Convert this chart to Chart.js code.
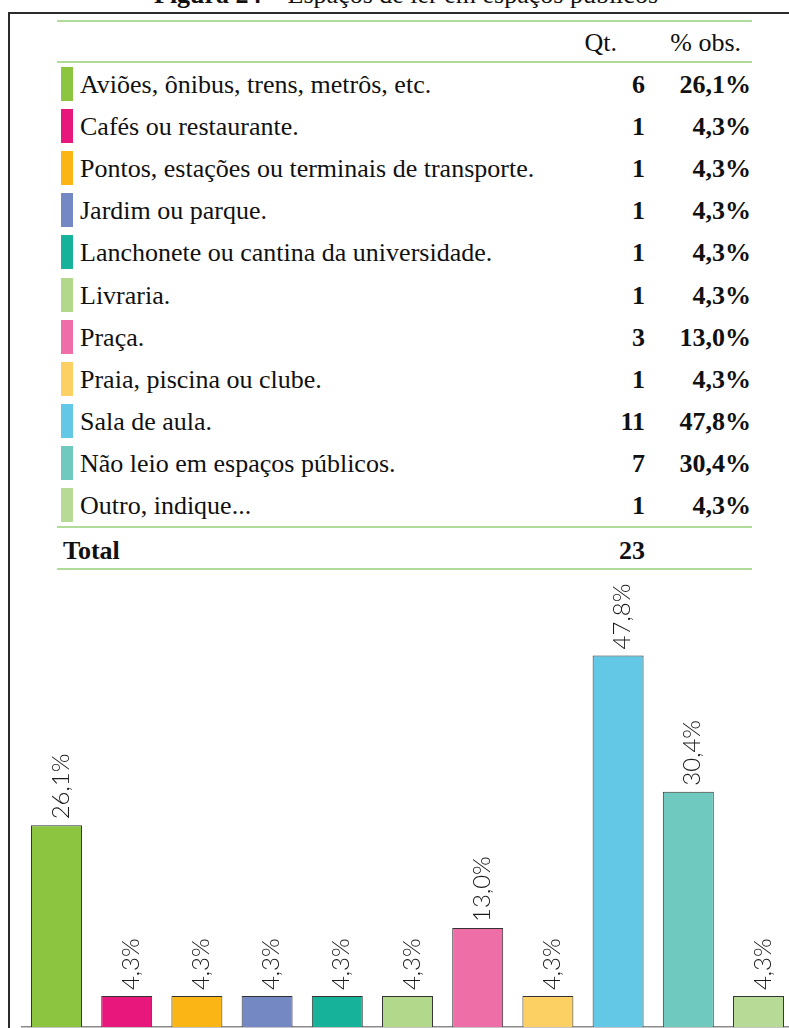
<!DOCTYPE html>
<html>
<head>
<meta charset="utf-8">
<script src="https://cdn.jsdelivr.net/npm/chart.js@4"></script>
<style>
  html, body { margin: 0; padding: 0; background: #fff; }
  body { width: 789px; height: 1028px; overflow: hidden; position: relative; font-family: "Liberation Serif", "Times New Roman", serif; color: #111; }
  .abs { position: absolute; white-space: nowrap; }
  #title { position: absolute; white-space: nowrap; left: 0; width: 812px; text-align: center; top: -24px; font-size: 26px; line-height: 38px; }
  #frame { position: absolute; left: 8px; top: 12px; width: 900px; height: 1100px; border-left: 2.5px solid #2b2b2b; border-top: 2px solid #2b2b2b; }
  .rule { position: absolute; left: 57px; width: 695px; height: 2px; background: #b0db98; }
  .txt { font-size: 26px; line-height: 38px; height: 38px; }
  .sw { position: absolute; left: 61px; width: 12px; height: 34px; }
  .num { text-align: right; font-weight: bold; }
  #chartBox { position: absolute; left: 0; top: 580px; width: 800px; height: 448px; }
</style>
</head>
<body>
<div id="title"><b>Figura 24</b> – Espaços de ler em espaços públicos</div>
<div id="frame"></div>
<div id="table"></div>
<div id="chartBox"><canvas id="barChart"></canvas></div>

<script>
const categories = [
  "Aviões, ônibus, trens, metrôs, etc.",
  "Cafés ou restaurante.",
  "Pontos, estações ou terminais de transporte.",
  "Jardim ou parque.",
  "Lanchonete ou cantina da universidade.",
  "Livraria.",
  "Praça.",
  "Praia, piscina ou clube.",
  "Sala de aula.",
  "Não leio em espaços públicos.",
  "Outro, indique...",
];
const counts = [6, 1, 1, 1, 1, 1, 3, 1, 11, 7, 1];
const percents = [26.1, 4.3, 4.3, 4.3, 4.3, 4.3, 13.0, 4.3, 47.8, 30.4, 4.3];
const total = 23;
const colors = [
  "#8cc540", "#e8177b", "#fbb615", "#7489c4", "#17b29a", "#b1d88b",
  "#ee6ea8", "#fdd064", "#62c8e5", "#70c9bf", "#b7db96",
];

function fmtPct(v) {
  return v.toFixed(1).replace(".", ",") + "%";
}

function buildTable() {
  const box = document.getElementById("table");
  let html = "";
  [20, 61, 526, 568].forEach((y) => {
    html += `<div class="rule" style="top:${y}px"></div>`;
  });
  html += `<div class="abs txt" style="top:24px;left:540px;width:77px;text-align:right">Qt.</div>`;
  html += `<div class="abs txt" style="top:24px;left:640px;width:101px;text-align:right">% obs.</div>`;
  categories.forEach((cat, i) => {
    const top = 67 + 42.1 * i;
    html += `<div class="sw" style="top:${top}px;background:${colors[i]}"></div>`;
    html += `<div class="abs txt" style="top:${top - 1}px;left:80px">${cat}</div>`;
    html += `<div class="abs txt num" style="top:${top - 1}px;left:560px;width:85px">${counts[i]}</div>`;
    html += `<div class="abs txt num" style="top:${top - 1}px;left:640px;width:111px">${fmtPct(percents[i])}</div>`;
  });
  html += `<div class="abs txt" style="top:532px;left:63px;font-weight:bold">Total</div>`;
  html += `<div class="abs txt num" style="top:532px;left:560px;width:85px">${total}</div>`;
  box.innerHTML = html;
}

// rotated value labels above each bar
const barLabels = {
  id: "barLabels",
  afterDatasetsDraw(chart) {
    const ctx = chart.ctx;
    const meta = chart.getDatasetMeta(0);
    ctx.save();
    ctx.font = "300 24px Lato, 'Liberation Sans', sans-serif";
    ctx.fillStyle = "#1a1a1a";
    ctx.textAlign = "left";
    ctx.textBaseline = "alphabetic";
    meta.data.forEach((bar, i) => {
      ctx.save();
      ctx.translate(bar.x + 12, bar.y - 6);
      ctx.rotate(-Math.PI / 2);
      ctx.fillText(fmtPct(percents[i]), 0, 0);
      ctx.restore();
    });
    ctx.restore();
  },
};

function initChart() {
  const ctx = document.getElementById("barChart").getContext("2d");
  new Chart(ctx, {
    type: "bar",
    data: {
      labels: categories,
      datasets: [
        {
          data: percents,
          backgroundColor: colors,
          borderColor: "#333",
          borderWidth: 1,
          barPercentage: 0.726,
          categoryPercentage: 1,
        },
      ],
    },
    options: {
      responsive: true,
      maintainAspectRatio: false,
      animation: false,
      layout: { padding: { left: 21.4, right: 6.4, top: 19, bottom: 1 } },
      scales: {
        x: {
          offset: true,
          grid: { display: false, drawTicks: false },
          ticks: { display: false },
          border: { display: true, color: "#8a8a8a", width: 1.5 },
        },
        y: {
          display: false,
          min: 0.35,
          max: 55,
        },
      },
      plugins: {
        legend: { display: false },
        tooltip: { enabled: false },
      },
    },
    plugins: [barLabels],
  });
}

buildTable();
initChart();
</script>
</body>
</html>
